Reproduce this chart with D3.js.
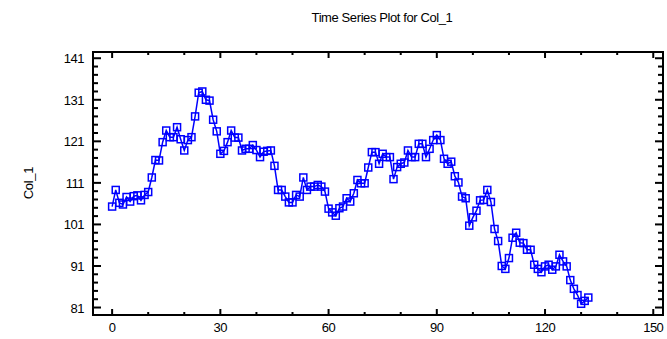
<!DOCTYPE html>
<html><head><meta charset="utf-8">
<script src="https://cdn.jsdelivr.net/npm/d3@7"></script>
<style>body{margin:0;background:#fff;} text{font-family:"Liberation Sans",Arial,sans-serif;}</style>
</head><body>
<svg id="c" width="667" height="339"></svg>
<script>
const title = "Time Series Plot for Col_1";
const yLabel = "Col_1";
const xTicks = [0, 30, 60, 90, 120, 150];
const yTicks = [81, 91, 101, 111, 121, 131, 141];
const values = [
105.3,109.3,106.2,105.8,107.6,106.5,107.8,108.0,106.8,108.1,
108.8,112.3,116.5,116.4,120.8,123.6,122.0,122.0,124.4,121.5,
118.8,121.3,122.0,127.0,132.7,133.0,131.0,130.8,126.2,123.4,
118.0,118.7,120.8,123.6,121.9,121.9,118.8,119.2,119.2,120.1,
118.9,117.2,118.5,118.7,118.8,115.1,109.3,109.3,107.7,106.3,
106.3,108.1,107.7,112.3,109.3,110.1,110.1,110.5,110.1,108.9,
104.8,103.9,103.1,104.9,105.3,107.3,106.5,108.5,111.7,110.9,
110.9,114.7,118.4,118.4,115.6,118.0,117.2,117.2,111.9,114.8,
115.6,115.9,118.8,117.2,117.2,120.4,120.4,117.2,119.2,121.3,
122.5,121.3,116.8,115.6,116.1,112.6,111.1,107.7,107.3,100.7,
102.7,104.3,106.8,106.9,109.3,106.4,99.9,97.0,91.0,90.3,
92.9,97.8,99.0,96.6,96.5,94.9,94.9,91.3,90.3,89.5,
90.9,91.3,90.1,90.9,93.7,92.1,90.9,87.6,85.5,84.0,
81.9,82.6,83.4];
const data = values.map((v, i) => ({t: i, v}));

const svg = d3.select("#c");
const L = 93, R = 663, T = 52, B = 315;
const x = d3.scaleLinear().domain([-5.3, 152.7]).range([L, R]);
const y = d3.scaleLinear().domain([79.2, 142.5]).range([B, T]);

const blue = "#0000ff";

// title
svg.append("text").attr("x", 382).attr("y", 22).attr("text-anchor", "middle")
  .style("font-size", "13px").style("letter-spacing", "-0.4px").text(title);
// y label
svg.append("text").attr("transform", "translate(33,183) rotate(-90)").attr("text-anchor", "middle")
  .style("font-size", "13px").style("letter-spacing", "-0.3px").text(yLabel);

// ticks
const g = svg.append("g");
const xMinor = d3.range(0, 151, 10);
const yMinor = d3.range(81, 142, 2);
xMinor.forEach(t => {
  const major = xTicks.includes(t);
  const len = major ? 6 : 3;
  g.append("line").attr("x1", x(t)).attr("x2", x(t)).attr("y1", B).attr("y2", B - len)
    .attr("stroke", "#000").attr("stroke-width", 2);
  g.append("line").attr("x1", x(t)).attr("x2", x(t)).attr("y1", T).attr("y2", T + len)
    .attr("stroke", "#000").attr("stroke-width", 2);
});
yMinor.forEach(t => {
  const major = yTicks.includes(t);
  const len = major ? 8 : 5;
  g.append("line").attr("x1", L).attr("x2", L + len).attr("y1", y(t)).attr("y2", y(t))
    .attr("stroke", "#000").attr("stroke-width", 2);
  g.append("line").attr("x1", R).attr("x2", R - len).attr("y1", y(t)).attr("y2", y(t))
    .attr("stroke", "#000").attr("stroke-width", 2);
});
xTicks.forEach(t => {
  svg.append("text").attr("x", x(t)).attr("y", 332).attr("text-anchor", "middle")
    .style("font-size", "13px").style("letter-spacing", "-0.5px").text(t);
});
yTicks.forEach(t => {
  svg.append("text").attr("x", 84).attr("y", y(t) + 5).attr("text-anchor", "end")
    .style("font-size", "13px").style("letter-spacing", "-0.5px").text(t);
});

// frame
svg.append("rect").attr("x", L).attr("y", T).attr("width", R - L).attr("height", B - T)
  .attr("fill", "none").attr("stroke", "#000").attr("stroke-width", 2);

// line
svg.append("path").datum(data)
  .attr("d", d3.line().x(d => x(d.t)).y(d => y(d.v)))
  .attr("fill", "none").attr("stroke", blue).attr("stroke-width", 1.5);

// markers
svg.append("g").selectAll("rect").data(data).join("rect")
  .attr("x", d => x(d.t) - 3.5).attr("y", d => y(d.v) - 3.5)
  .attr("width", 7).attr("height", 7)
  .attr("fill", "none").attr("stroke", blue).attr("stroke-width", 1.5);
</script>
</body></html>
